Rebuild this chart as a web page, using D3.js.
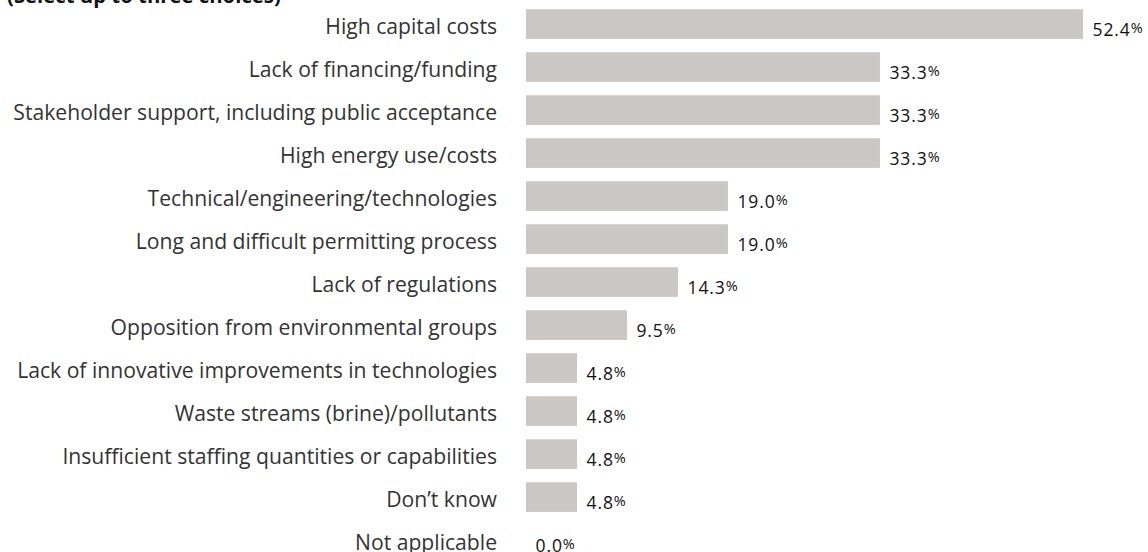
<!DOCTYPE html>
<html>
<head>
<meta charset="utf-8">
<script src="https://cdn.jsdelivr.net/npm/d3@7"></script>
<style>
  html, body { margin: 0; padding: 0; background: #fff; }
  svg { display: block; }
</style>
</head>
<body>
<svg id="chart" width="1148" height="552"></svg>
<script>
const title = "(Select up to three choices)";
const categories = [
  "High capital costs",
  "Lack of financing/funding",
  "Stakeholder support, including public acceptance",
  "High energy use/costs",
  "Technical/engineering/technologies",
  "Long and difficult permitting process",
  "Lack of regulations",
  "Opposition from environmental groups",
  "Lack of innovative improvements in technologies",
  "Waste streams (brine)/pollutants",
  "Insufficient staffing quantities or capabilities",
  "Don\u2019t know",
  "Not applicable"
];
const values = [52.4, 33.3, 33.3, 33.3, 19.0, 19.0, 14.3, 9.5, 4.8, 4.8, 4.8, 4.8, 0.0];

const svg = d3.select("#chart");
const font = "'Open Sans', Lato, sans-serif";

const x = d3.scaleLinear().domain([0, 52.4]).range([526, 1083]);
const y = d3.scaleBand().domain(categories).range([2.6, 2.6 + 13 * 43])
  .paddingInner(0.31).paddingOuter(0.155);

const t = svg.append("text")
  .attr("x", 7).attr("y", 3)
  .attr("font-family", font).attr("font-weight", 700)
  .attr("font-size", 18).attr("fill", "#111")
  .text(title);
t.attr("font-size", 18 * 274 / t.node().getComputedTextLength());

const rows = svg.append("g").selectAll("g").data(categories).join("g");

rows.append("rect")
  .attr("x", x(0))
  .attr("y", d => y(d))
  .attr("width", (d, i) => x(values[i]) - x(0))
  .attr("height", y.bandwidth())
  .attr("fill", "#cbc7c4");

const cl = rows.append("text")
  .attr("x", 497)
  .attr("y", d => y(d) + y.bandwidth() / 2 + 9.5)
  .attr("text-anchor", "end")
  .attr("font-family", font)
  .attr("font-size", 18)
  .attr("fill", "#333")
  .text(d => d);
// fit label size so the longest label spans like the reference (~484px)
const maxW = d3.max(cl.nodes(), n => n.getComputedTextLength());
cl.attr("font-size", 18 * 484 / maxW);

const vl = rows.append("text")
  .attr("x", (d, i) => x(values[i]) + 9.5)
  .attr("y", d => y(d) + y.bandwidth() / 2 + 12)
  .attr("font-family", font)
  .attr("font-size", 17.5)
  .attr("letter-spacing", 0.9)
  .attr("fill", "#111");
vl.append("tspan").text((d, i) => values[i].toFixed(1));
vl.append("tspan").attr("font-size", 14.5).attr("dy", -3.5).attr("letter-spacing", 0).text("%");
</script>
</body>
</html>
